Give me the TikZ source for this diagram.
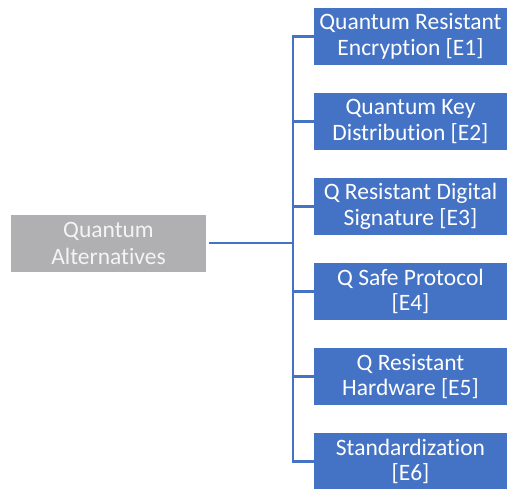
\documentclass[tikz,border=0pt]{standalone}
\usepackage{fontspec}
\setmainfont{Carlito}[Ligatures={NoCommon}]
\definecolor{boxblue}{HTML}{4472C4}
\definecolor{boxgray}{HTML}{B0B0B3}
\definecolor{lightgraytext}{HTML}{F4F4F4}
\begin{document}
\begin{tikzpicture}[x=1pt,y=-1pt,
  rbox/.style={fill=boxblue, draw=none, minimum width=193pt, minimum height=57pt,
    align=center, text=white, inner sep=0pt, font=\fontsize{23.5}{25.5}\selectfont},
  lbox/.style={fill=boxgray, draw=none, minimum width=195pt, minimum height=57pt,
    align=center, text=lightgraytext, inner sep=0pt, font=\fontsize{23.5}{27}\selectfont},
  conn/.style={draw=boxblue, line width=2.8pt}]
\useasboundingbox (0,0) rectangle (508,489);
\node[lbox] (root) at (108.5,243.5) {Quantum\\Alternatives};
\node[rbox] (e1) at (410.5,36.5) {Quantum Resistant\\Encryption [E1]};
\node[rbox] (e2) at (410.5,121.5) {Quantum Key\\Distribution [E2]};
\node[rbox] (e3) at (410.5,206.5) {Q Resistant Digital\\Signature [E3]};
\node[rbox] (e4) at (410.5,291.5) {Q Safe Protocol\\{[E4]}};
\node[rbox] (e5) at (410.5,376.5) {Q Resistant\\Hardware [E5]};
\node[rbox] (e6) at (410.5,461.5) {Standardization\\{[E6]}};
\coordinate (top) at (293,36.5);
\coordinate (bot) at (293,461.5);
\coordinate (mid) at (293,243);
\draw[conn] ([xshift=3pt]root.east |- mid) -- (mid);
\draw[conn] (e1.west) -- (top) -- (bot) -- (e6.west);
\foreach \n in {e2,e3,e4,e5} { \draw[conn] (\n.west) -- (\n.west -| top); }
\end{tikzpicture}
\end{document}
